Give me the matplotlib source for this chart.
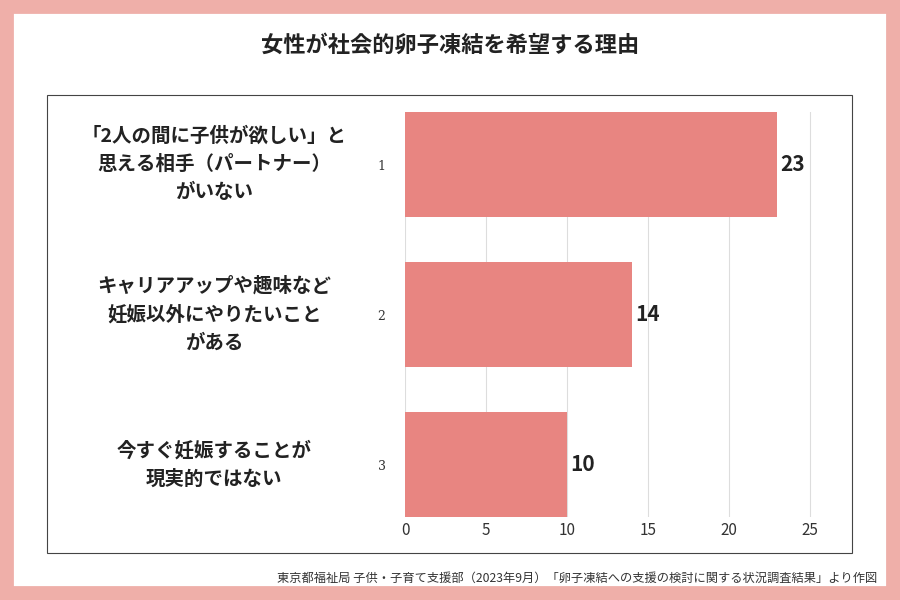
import matplotlib.pyplot as plt
from matplotlib.patches import Rectangle

plt.rcParams['font.family'] = 'Noto Sans CJK JP'

reasons = ['「2人の間に子供が欲しい」と\n思える相手（パートナー）\nがいない',
           'キャリアアップや趣味など\n妊娠以外にやりたいこと\nがある',
           '今すぐ妊娠することが\n現実的ではない']
ranks = ['1', '2', '3']
counts = [23, 14, 10]

fig = plt.figure(figsize=(9, 6), dpi=100)
fig.patches.append(Rectangle((0, 0), 1, 1, transform=fig.transFigure, fill=False,
                             edgecolor='#EFAFA9', linewidth=20))
fig.patches.append(Rectangle((47 / 900, 1 - 553 / 600), 805 / 900, 458 / 600,
                             transform=fig.transFigure, fill=False,
                             edgecolor='#444444', linewidth=0.8))
fig.text(0.5, 1 - 45 / 600, '女性が社会的卵子凍結を希望する理由', ha='center', va='center',
         fontsize=16, fontweight='bold', color='#222222')
fig.text(0.975, 1 - 578 / 600,
         '東京都福祉局 子供・子育て支援部（2023年9月）「卵子凍結への支援の検討に関する状況調査結果」より作図',
         ha='right', va='center', fontsize=8.8, color='#333333')

ax = fig.add_axes([405 / 900, 1 - 517 / 600, 445 / 900, 405 / 600])
y = list(range(len(counts)))
ax.barh(y, counts, height=0.7, color='#E88581', zorder=2)
ax.set_ylim(2.35, -0.35)
ax.set_xlim(0, 27.5)
ax.set_xticks([0, 5, 10, 15, 20, 25])
ax.xaxis.grid(True, color='#DDDDDD', linewidth=0.8, zorder=0)
ax.set_yticks(y)
ax.set_yticklabels(ranks, fontfamily='DejaVu Serif', fontsize=9, color='#333333')
ax.tick_params(axis='y', length=0, pad=14)
ax.tick_params(axis='x', length=0, labelsize=11, colors='#333333')
for s in ['top', 'right', 'left', 'bottom']:
    ax.spines[s].set_visible(False)
for yi, v in zip(y, counts):
    ax.text(v + 0.2, yi, str(v), va='center', ha='left', fontsize=15, fontweight='bold', color='#222222')
for yi, r in zip(y, reasons):
    ax.text(-11.8, yi, r, va='center', ha='center', fontsize=14, fontweight='bold',
            color='#222222', linespacing=1.6, transform=ax.transData)

fig.savefig('out.png', dpi=100)
